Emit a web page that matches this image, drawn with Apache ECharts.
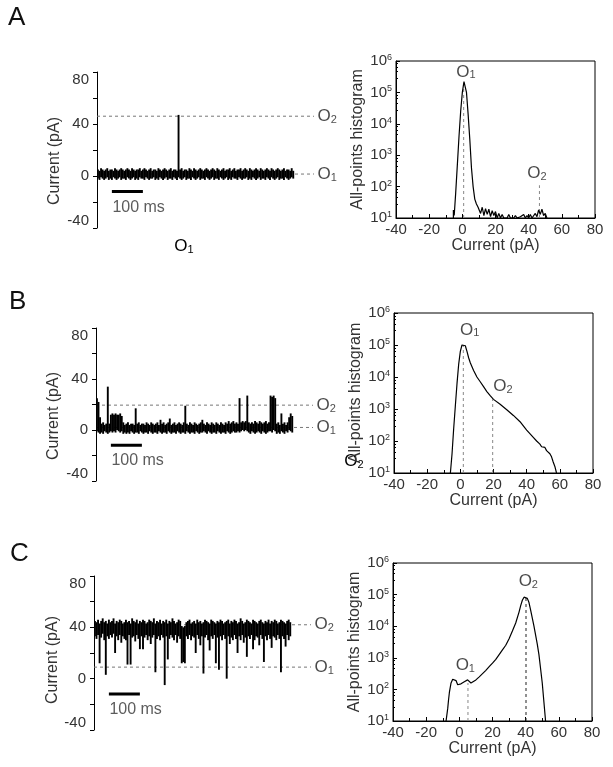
<!DOCTYPE html>
<html>
<head>
<meta charset="utf-8">
<script src="https://cdn.jsdelivr.net/npm/echarts@6/dist/echarts.min.js"></script>
<style>
html, body { margin: 0; padding: 0; background: #fff; }
#chart { width: 613px; height: 767px; }
</style>
</head>
<body>
<div id="chart"></div>
<script>
var FONT = '"Liberation Sans", Arial, sans-serif';
var DT = 5; // ms per bin of the current traces

// current traces: highest and lowest current (pA) in each DT-ms bin
var traceAHi = [
    5, 4, 6, 5, 4, 5, 6, 4, 5, 5,
    4, 6, 5, 4, 5, 6, 5, 4, 5, 6,
    5, 4, 6, 5, 4, 5, 5, 6, 4, 5,
    6, 5, 4, 5, 6, 4, 5, 5, 4, 6,
    5, 4, 5, 6, 5, 4, 5, 6, 4, 5,
    5, 4, 47, 5, 6, 4, 5, 5, 4, 6,
    5, 4, 6, 5, 4, 5, 6, 5, 4, 5,
    6, 5, 4, 5, 6, 5, 4, 6, 5, 4,
    5, 6, 4, 5, 5, 6, 4, 5, 6, 4,
    5, 5, 6, 4, 5, 6, 5, 4, 6, 5,
    4, 5, 6, 5, 4, 6, 5, 4, 5, 6,
    5, 4, 6, 5, 4, 5, 6, 5, 4, 5,
    6, 4, 5, 5, 4, 6, 4
];
var traceALo = [
    -2, -3, -1, -2, -3, -2, -1, -3, -2, -3,
    -1, -2, -3, -2, -1, -3, -2, -2, -3, -1,
    -2, -3, -2, -1, -3, -2, -3, -1, -2, -2,
    -3, -1, -2, -3, -2, -2, -1, -3, -2, -3,
    -1, -2, -3, -2, -1, -3, -2, -2, -3, -1,
    -2, -3, -1, -2, -3, -2, -1, -3, -2, -2,
    -3, -1, -2, -3, -2, -1, -3, -2, -2, -3,
    -1, -2, -3, -2, -1, -3, -2, -2, -3, -1,
    -2, -3, -2, -1, -3, -2, -3, -1, -2, -2,
    -3, -1, -2, -3, -2, -2, -1, -3, -2, -3,
    -1, -2, -3, -2, -1, -3, -2, -2, -3, -1,
    -2, -3, -1, -2, -3, -2, -1, -3, -2, -2,
    -3, -1, -2, -3, -2, -1, -2
];
var traceBHi = [
    25, 22, 10, 5, 6, 4, 5, 34, 5, 12,
    13, 12, 13, 12, 12, 13, 11, 6, 4, 5,
    6, 4, 5, 5, 4, 17, 5, 6, 4, 5,
    5, 4, 6, 5, 4, 6, 5, 4, 5, 6,
    4, 8, 5, 6, 4, 5, 6, 9, 4, 5,
    6, 4, 5, 6, 5, 4, 6, 19, 5, 4,
    6, 5, 4, 6, 5, 4, 5, 6, 8, 5,
    4, 6, 5, 4, 6, 5, 4, 6, 5, 4,
    6, 5, 4, 6, 5, 7, 5, 6, 7, 5,
    6, 5, 25, 6, 7, 6, 7, 27, 6, 5,
    6, 5, 7, 6, 5, 7, 6, 5, 6, 7,
    5, 6, 27, 26, 27, 25, 5, 6, 4, 13,
    5, 6, 4, 6, 10, 13, 11
];
var traceBLo = [
    -1, -2, -3, -2, -3, -1, -2, -3, -2, -1,
    -2, -1, -2, 0, -1, -2, -1, -3, -2, -3,
    -2, -3, -1, -2, -3, -2, -2, -3, -1, -2,
    -3, -2, -2, -3, -1, -2, -3, -2, -2, -3,
    -1, -2, -3, -2, -2, -3, -1, -2, -3, -2,
    -2, -3, -1, -2, -3, -2, -2, -3, -1, -2,
    -3, -2, -2, -3, -1, -2, -3, -2, -2, -1,
    -2, -3, -1, -2, -3, -2, -2, -3, -1, -2,
    -3, -2, -2, -3, -1, -2, -3, -2, -1, -2,
    -2, -1, -2, -1, 0, -1, 0, -1, -2, -3,
    -1, -2, -3, -2, -1, -2, -3, -1, -2, -3,
    -2, -1, -1, -2, 0, -1, -3, -2, -3, -1,
    -2, -3, -1, -2, 0, -1, -2
];
var traceCHi = [
    45, 44, 46, 43, 45, 47, 44, 45, 43, 46,
    44, 45, 47, 43, 45, 44, 46, 45, 43, 44,
    46, 44, 45, 43, 47, 45, 44, 46, 43, 45,
    44, 46, 45, 43, 44, 46, 45, 44, 47, 43,
    45, 44, 46, 43, 45, 44, 46, 43, 45, 44,
    47, 45, 43, 44, 46, 45, 41, 40, 41, 44,
    45, 46, 43, 44, 45, 43, 46, 44, 45, 43,
    44, 46, 45, 44, 43, 46, 45, 44, 43, 45,
    44, 46, 45, 43, 44, 45, 46, 43, 45, 44,
    46, 45, 43, 44, 47, 45, 43, 44, 46, 45,
    44, 43, 46, 45, 44, 43, 45, 46, 44, 43,
    45, 44, 46, 43, 45, 44, 46, 45, 43, 44,
    46, 45, 44, 43, 45, 46, 44
];
var traceCLo = [
    33, 31, 34, 12, 32, 35, 30, 3, 33, 31,
    34, 32, 35, 20, 33, 30, 34, 28, 33, 31,
    30, 11, 34, 11, 32, 33, 29, 34, 31, 23,
    33, 23, 32, 34, 30, 33, 27, 32, 34, 5,
    31, 33, 30, 34, 32, -5, 33, 15, 31, 34,
    32, 30, 34, 28, 33, 31, 12, 13, 12, 33,
    31, 34, 30, 33, 32, 20, 34, 31, 26, 33,
    4, 32, 34, 30, 22, 33, 31, 34, 12, 32,
    7, 33, 30, 34, 31, 0, 33, 27, 32, 30,
    34, 31, 20, 33, 30, 34, 28, 32, 17, 33,
    31, 34, 23, 30, 33, 32, 26, 34, 31, 13,
    33, 30, 34, 31, 24, 33, 32, 30, 34, 31,
    5, 33, 31, 25, 34, 30, 33
];

// O1 / O2 current levels (pA)
var levelsA = [1.5, 46];
var levelsB = [2, 19.5];
var levelsC = [9, 42];

// all-points histograms: current (pA) and counts
var histAx = [-5.4, -5.4, -4.9, -4, -3, -2, -1, 0, 1, 1.5, 2.5, 3.5, 4.5, 5.5, 6.5, 7.5, 8.5, 9.5,
    10, 11, 12, 13, 14, 15, 16, 17, 18, 19, 20, 21, 22, 23, 24, 25, 26, 27, 28, 29, 30,
    31, 32, 33, 34, 35, 36, 37, 38, 39, 40, 41, 42, 43, 44, 45, 46, 47, 48, 49, 50, 51];
var histAy = [10, 18, 12, 63, 500, 4000, 25000, 100000, 220000, 200000, 100000, 20000, 3200, 400, 100, 40, 28, 22,
    24, 14, 22, 12, 20, 13, 19, 11, 17, 12, 16, 10, 14, 10, 13, 10, 11, 10, 13, 10, 11,
    10, 12, 10, 10, 11, 10, 13, 10, 12, 10, 13, 10, 11, 14, 11, 18, 13, 19, 12, 14, 10];

var histBx = [-6, -5, -4, -3, -2, -1, 0, 1, 2, 3, 4, 5, 6, 8, 10, 12, 14, 16, 18, 20, 24, 28, 32, 36, 40,
    44, 46, 48, 49, 50, 51, 52, 53, 54, 55, 56, 57, 58];
var histBy = [10, 40, 250, 1260, 6300, 25000, 63000, 100000, 112000, 95000, 63000, 40000, 28000, 16000,
    10000, 7100, 5000, 3500, 2600, 2000, 1400, 950, 630, 400, 220, 130, 100, 80, 66, 60, 63, 50, 52,
    40, 32, 22, 16, 10];

var histCx = [-8, -7, -6.5, -6, -5, -4, -3, -2, -1, 0, 1, 2, 3, 4, 5, 6, 7, 8, 10, 12, 14, 16, 18, 20,
    22, 24, 26, 28, 30, 32, 34, 36, 37, 38, 39, 40, 41, 42, 43, 44, 45, 46, 47, 48, 49, 50, 51, 52];
var histCy = [10, 25, 47, 80, 160, 210, 224, 190, 140, 126, 150, 160, 175, 200, 200, 178, 160, 166, 200,
    250, 316, 400, 525, 676, 890, 1260, 1780, 2500, 4000, 7000, 12600, 28000, 45000, 66000, 83000,
    89000, 76000, 56000, 32000, 18000, 10000, 5200, 2700, 1260, 450, 160, 40, 10];

// dashed markers in the histograms: [current, top count]
var markA = [[0.8, 200000], [46.5, 110]];
var markB = [[1.8, 100000], [19.5, 2000]];
var markC = [[5.2, 160], [40.2, 85000]];
// O1 / O2 label anchors in the histograms
var tagA = [[2.2, 450000], [45, 270]];
var tagB = [[5.6, 295000], [25.7, 5200]];
var tagC = [[3.6, 590], [41.6, 263000]];

var chart = echarts.init(document.getElementById('chart'));

var O_RICH = {
    o: { fontSize: 17, lineHeight: 18, color: '#1a1a1a', fontFamily: FONT },
    s: { fontSize: 11, lineHeight: 8, verticalAlign: 'bottom', color: '#1a1a1a', fontFamily: FONT }
};
function oText(n) { return '{o|O}{s|' + n + '}'; }

function zip(xs, ys) {
    return xs.map(function (x, i) { return [x, ys[i]]; });
}

// one filled vertical bar per bin, from lowest to highest current
function renderBin(params, api) {
    var t = api.value(0);
    var top = api.coord([t, api.value(2)]);
    var bot = api.coord([t, api.value(1)]);
    var w = api.size([DT, 0])[0];
    return {
        type: 'rect',
        shape: { x: top[0] - w / 2, y: top[1], width: w + 0.35, height: Math.max(bot[1] - top[1], 1) },
        style: { fill: '#000' }
    };
}

var grids = [
    { left: 97, top: 72, width: 217, height: 156 },
    { left: 396, top: 61, width: 199, height: 157, show: true, borderColor: '#000', borderWidth: 1 },
    { left: 96, top: 328, width: 217, height: 153 },
    { left: 394, top: 313, width: 199, height: 160, show: true, borderColor: '#000', borderWidth: 1 },
    { left: 94, top: 576, width: 217, height: 154 },
    { left: 393, top: 563, width: 199, height: 158, show: true, borderColor: '#000', borderWidth: 1 }
];

var xAxes = [], yAxes = [], series = [];

function addTrace(g, hi, lo, levels) {
    xAxes.push({ gridIndex: g, type: 'value', min: 0, max: 700, show: false });
    yAxes.push({
        gridIndex: g, type: 'value', min: -40, max: 80, interval: 20,
        axisLine: { show: true, onZero: false, lineStyle: { color: '#000', width: 1 } },
        axisTick: { show: true, length: 4, lineStyle: { color: '#000' } },
        splitLine: { show: false },
        axisLabel: {
            fontSize: 15, color: '#333', margin: 8, fontFamily: FONT,
            verticalAlignMaxLabel: 'top', verticalAlignMinLabel: 'bottom',
            formatter: function (v) { return v % 40 === 0 ? String(v) : ''; }
        }
    });
    var dash = { color: '#777', width: 1, type: [3, 3] };
    levels.forEach(function (lv) {
        series.push({
            type: 'line', xAxisIndex: g, yAxisIndex: g, symbol: 'none', silent: true,
            lineStyle: dash, data: [[0, lv], [700, lv]], z: 1
        });
    });
    series.push({
        type: 'custom', xAxisIndex: g, yAxisIndex: g, silent: true, z: 3,
        renderItem: renderBin,
        encode: { x: 0, y: [1, 2] },
        data: hi.map(function (h, i) { return [(i + 0.5) * DT, lo[i], h]; })
    });
    // 100 ms scale bar
    series.push({
        type: 'line', xAxisIndex: g, yAxisIndex: g, symbol: 'none', silent: true,
        lineStyle: { color: '#000', width: 3 }, data: [[48, -12], [148, -12]]
    });
    series.push({
        type: 'scatter', xAxisIndex: g, yAxisIndex: g, symbolSize: 1, silent: true, clip: false,
        itemStyle: { color: 'rgba(0,0,0,0)' },
        label: { show: true, position: 'right', distance: 0, formatter: '100 ms', fontSize: 16, color: '#333', fontFamily: FONT },
        data: [[48, -24]]
    });
    series.push({
        type: 'scatter', xAxisIndex: g, yAxisIndex: g, symbolSize: 1, silent: true, clip: false,
        itemStyle: { color: 'rgba(0,0,0,0)' },
        label: { show: true, position: 'right', distance: 3, rich: O_RICH },
        data: [
            { value: [700, levels[0]], label: { formatter: oText('1') } },
            { value: [700, levels[1]], label: { formatter: oText('2') } }
        ]
    });
}

function addHist(g, xs, ys, marks, tags, darkO2) {
    xAxes.push({
        gridIndex: g, type: 'value', min: -40, max: 80, interval: 20,
        name: 'Current (pA)', nameLocation: 'middle', nameGap: 20,
        nameTextStyle: { fontSize: 16, color: '#333', fontFamily: FONT },
        axisLine: { onZero: false, lineStyle: { color: '#000' } },
        axisTick: { inside: true, length: 4, lineStyle: { color: '#000' } },
        minorTick: { show: true, splitNumber: 2, length: 3, lineStyle: { color: '#000' } },
        splitLine: { show: false },
        axisLabel: { fontSize: 15, color: '#333', margin: 4, fontFamily: FONT }
    });
    yAxes.push({
        gridIndex: g, type: 'log', logBase: 10, min: 10, max: 1000000,
        name: 'All-points histogram', nameLocation: 'middle', nameGap: 30,
        nameTextStyle: { fontSize: 16, color: '#333', fontFamily: FONT },
        axisLine: { onZero: false, lineStyle: { color: '#000' } },
        axisTick: { inside: true, length: 4, lineStyle: { color: '#000' } },
        minorTick: { show: true, splitNumber: 5, length: 2, lineStyle: { color: '#000' } },
        splitLine: { show: false },
        axisLabel: {
            margin: 4, color: '#333',
            formatter: function (v) { return '{b|10}{s|' + Math.round(Math.log10(v)) + '}'; },
            rich: {
                b: { fontSize: 15, lineHeight: 16, color: '#333', fontFamily: FONT },
                s: { fontSize: 9, lineHeight: 6, verticalAlign: 'top', color: '#333', fontFamily: FONT }
            }
        }
    });
    marks.forEach(function (m, k) {
        series.push({
            type: 'line', xAxisIndex: g, yAxisIndex: g, symbol: 'none', silent: true, z: 1,
            lineStyle: { color: (k === 1 && darkO2) ? '#222' : '#888', width: 1, type: [3, 3] },
            data: [[m[0], 10], [m[0], m[1]]]
        });
    });
    series.push({
        type: 'line', xAxisIndex: g, yAxisIndex: g, symbol: 'none', silent: true, z: 3,
        lineStyle: { color: '#000', width: 1.2 }, data: zip(xs, ys)
    });
    series.push({
        type: 'scatter', xAxisIndex: g, yAxisIndex: g, symbolSize: 1, silent: true, clip: false,
        itemStyle: { color: 'rgba(0,0,0,0)' },
        label: { show: true, position: 'inside', rich: O_RICH },
        data: [
            { value: tags[0], label: { formatter: oText('1') } },
            { value: tags[1], label: { formatter: oText('2') } }
        ]
    });
}

addTrace(0, traceAHi, traceALo, levelsA);
addHist(1, histAx, histAy, markA, tagA, false);
addTrace(2, traceBHi, traceBLo, levelsB);
addHist(3, histBx, histBy, markB, tagB, false);
addTrace(4, traceCHi, traceCLo, levelsC);
addHist(5, histCx, histCy, markC, tagC, true);

function vText(x, y, text) {
    return {
        type: 'text', x: x, y: y, rotation: Math.PI / 2, silent: true,
        style: { text: text, font: '16px ' + FONT, fill: '#333', textAlign: 'center', textVerticalAlign: 'middle' }
    };
}
function letter(x, y, text) {
    return {
        type: 'text', x: x, y: y, silent: true,
        style: { text: text, font: '26px ' + FONT, fill: '#111', textAlign: 'left', textVerticalAlign: 'top' }
    };
}
function stray(x, y, n) {
    return {
        type: 'text', x: x, y: y, silent: true,
        style: { text: oText(n), rich: O_RICH, textAlign: 'center', textVerticalAlign: 'middle' }
    };
}

var option = {
    animation: false,
    backgroundColor: '#fff',
    grid: grids,
    xAxis: xAxes,
    yAxis: yAxes,
    series: series,
    graphic: [
        letter(8, 5, 'A'), letter(9, 289, 'B'), letter(10, 541, 'C'),
        vText(55, 161, 'Current (pA)'), vText(54, 416, 'Current (pA)'), vText(53, 660, 'Current (pA)'),
        stray(184, 246, '1'), stray(354, 461, '2')
    ]
};
chart.setOption(option);
</script>
</body>
</html>
